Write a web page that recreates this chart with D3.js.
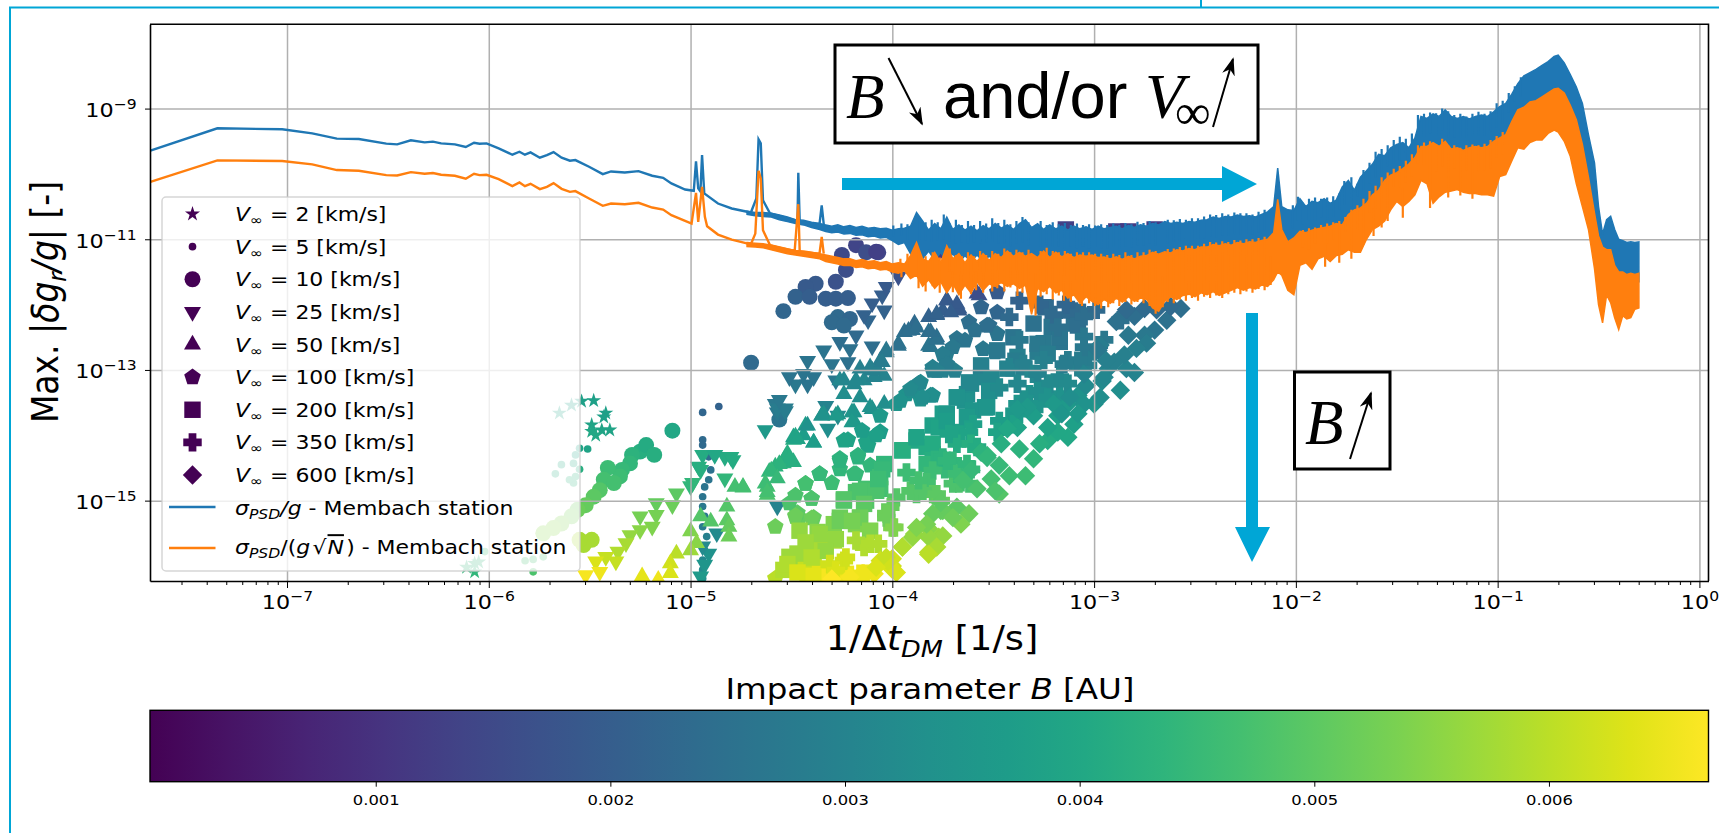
<!DOCTYPE html>
<html>
<head>
<meta charset="utf-8">
<title>Max. gravity signal vs Membach noise</title>
<script src="https://cdn.jsdelivr.net/npm/d3@7"></script>
<style>
  html, body { margin: 0; padding: 0; background: #fff; overflow: hidden; }
  text { font-family: "DejaVu Sans", sans-serif; fill: #000; }
</style>
</head>
<body>
<div id="chart"></div>
<script>
// all frequencies and amplitudes are log10 values

// low frequency part of the two noise curves: [log f, log amp]
const blueThin = [[-7.677,-9.645],[-7.345,-9.302],[-7.024,-9.317],[-6.875,-9.379],[-6.753,-9.46],[-6.644,-9.465],[-6.508,-9.537],[-6.454,-9.547],[-6.386,-9.486],[-6.318,-9.517],[-6.277,-9.506],[-6.236,-9.532],[-6.168,-9.547],[-6.114,-9.588],[-6.073,-9.522],[-6.046,-9.537],[-6.011,-9.532],[-5.951,-9.609],[-5.883,-9.706],[-5.848,-9.66],[-5.821,-9.706],[-5.793,-9.67],[-5.747,-9.752],[-5.712,-9.711],[-5.679,-9.665],[-5.639,-9.752],[-5.598,-9.798],[-5.571,-9.788],[-5.503,-9.89],[-5.435,-10.003],[-5.394,-9.962],[-5.326,-9.977],[-5.258,-9.957],[-5.19,-10.028],[-5.136,-10.059],[-5.095,-10.146],[-5.027,-10.238],[-4.984,-10.258],[-4.973,-9.808],[-4.962,-10.222],[-4.951,-10.27],[-4.943,-9.711],[-4.932,-10.299],[-4.864,-10.453],[-4.796,-10.529],[-4.701,-10.591],[-4.674,-10.376],[-4.663,-9.471],[-4.652,-9.532],[-4.641,-10.402],[-4.606,-10.606],[-4.484,-10.708],[-4.47,-10.73],[-4.466,-9.982],[-4.459,-10.734],[-4.361,-10.77],[-4.35,-10.483],[-4.34,-10.77]];
const orangeThin = [[-7.677,-10.12],[-7.345,-9.793],[-7.024,-9.803],[-6.875,-9.854],[-6.753,-9.941],[-6.644,-9.951],[-6.508,-10.018],[-6.454,-10.023],[-6.386,-9.972],[-6.318,-9.997],[-6.277,-9.987],[-6.236,-10.013],[-6.168,-10.028],[-6.114,-10.074],[-6.073,-9.997],[-6.046,-10.018],[-6.011,-10.013],[-5.951,-10.079],[-5.883,-10.187],[-5.848,-10.13],[-5.821,-10.187],[-5.793,-10.151],[-5.747,-10.233],[-5.712,-10.197],[-5.679,-10.141],[-5.639,-10.228],[-5.598,-10.274],[-5.571,-10.263],[-5.503,-10.376],[-5.435,-10.488],[-5.394,-10.453],[-5.326,-10.463],[-5.258,-10.442],[-5.19,-10.514],[-5.136,-10.545],[-5.095,-10.632],[-5.027,-10.719],[-4.995,-10.76],[-4.973,-10.289],[-4.962,-10.734],[-4.943,-10.197],[-4.929,-10.657],[-4.918,-10.80],[-4.864,-10.928],[-4.796,-11.005],[-4.701,-11.077],[-4.679,-10.913],[-4.663,-9.951],[-4.652,-10.069],[-4.641,-10.862],[-4.606,-11.092],[-4.484,-11.179],[-4.466,-10.463],[-4.459,-11.194],[-4.361,-11.22],[-4.35,-10.964],[-4.34,-11.22]];

// high frequency part: the curves oscillate so fast they read as bands
const bandF = [
  -4.72,-4.68,-4.64,-4.60,-4.56,-4.52,-4.48,-4.44,-4.40,-4.36,
  -4.33,-4.30,-4.27,-4.24,-4.21,-4.18,-4.15,-4.12,-4.09,-4.06,
  -4.03,-4.00,-3.97,-3.94,-3.91,-3.88,-3.85,-3.82,-3.79,-3.76,
  -3.73,-3.70,-3.67,-3.64,-3.61,-3.58,-3.55,-3.52,-3.49,-3.46,
  -3.43,-3.40,-3.37,-3.34,-3.31,-3.28,-3.25,-3.22,-3.19,-3.16,
  -3.13,-3.10,-3.07,-3.04,-3.01,-2.98,-2.95,-2.92,-2.89,-2.86,
  -2.83,-2.80,-2.77,-2.74,-2.71,-2.68,-2.65,-2.62,-2.59,-2.56,
  -2.53,-2.50,-2.47,-2.44,-2.41,-2.38,-2.35,-2.32,-2.29,-2.26,
  -2.23,-2.20,-2.17,-2.14,-2.11,-2.09,-2.07,-2.04,-2.01,-1.98,
  -1.95,-1.92,-1.89,-1.86,-1.83,-1.80,-1.77,-1.74,-1.71,-1.68,
  -1.65,-1.62,-1.59,-1.56,-1.53,-1.50,-1.47,-1.44,-1.41,-1.38,
  -1.35,-1.32,-1.29,-1.26,-1.23,-1.20,-1.17,-1.14,-1.11,-1.08,
  -1.05,-1.02,-0.99,-0.96,-0.93,-0.90,-0.87,-0.84,-0.81,-0.78,
  -0.75,-0.72,-0.70,-0.67,-0.64,-0.61,-0.58,-0.55,-0.52,-0.50,
  -0.48,-0.46,-0.44,-0.42,-0.40,-0.38,-0.36,-0.34,-0.32,-0.30
];
const blueTop = [
  -10.57,-10.59,-10.59,-10.60,-10.63,-10.66,-10.70,-10.71,-10.74,-10.76,
  -10.78,-10.80,-10.78,-10.81,-10.79,-10.82,-10.80,-10.83,-10.82,-10.84,
  -10.83,-10.86,-10.84,-10.83,-10.80,-10.59,-10.72,-10.86,-10.76,-10.84,
  -10.66,-10.85,-10.78,-10.86,-10.80,-10.87,-10.79,-10.84,-10.76,-10.83,
  -10.78,-10.85,-10.76,-10.70,-10.82,-10.76,-10.85,-10.78,-10.84,-10.80,
  -10.86,-10.80,-10.84,-10.81,-10.85,-10.80,-10.84,-10.82,-10.80,-10.84,
  -10.79,-10.82,-10.78,-10.80,-10.76,-10.78,-10.73,-10.76,-10.74,-10.76,
  -10.73,-10.74,-10.71,-10.70,-10.66,-10.68,-10.65,-10.66,-10.63,-10.65,
  -10.64,-10.66,-10.62,-10.58,-10.50,-9.91,-10.50,-10.55,-10.56,-10.38,
  -10.50,-10.42,-10.44,-10.38,-10.45,-10.40,-10.20,-10.10,-10.25,-10.05,
  -9.95,-9.85,-9.70,-9.72,-9.60,-9.55,-9.52,-9.60,-9.45,-9.12,
  -9.15,-9.08,-9.12,-9.02,-9.12,-9.15,-9.12,-9.16,-9.12,-9.10,
  -9.12,-9.05,-8.97,-8.92,-8.78,-8.62,-8.50,-8.45,-8.40,-8.34,
  -8.28,-8.20,-8.18,-8.30,-8.48,-8.67,-8.92,-9.40,-9.83,-10.50,
  -10.92,-10.70,-10.65,-10.85,-11.00,-11.02,-11.05,-11.04,-11.05,-11.04
];
const blueBottom = [
  -10.62,-10.64,-10.65,-10.66,-10.70,-10.73,-10.76,-10.78,-10.82,-10.85,
  -10.88,-10.90,-10.89,-10.92,-10.91,-10.94,-10.93,-10.96,-10.95,-10.98,
  -10.97,-11.02,-11.08,-11.05,-11.22,-11.15,-11.30,-11.18,-11.32,-11.20,
  -11.35,-11.22,-11.36,-11.25,-11.34,-11.24,-11.34,-11.26,-11.32,-11.30,
  -11.34,-11.38,-11.36,-11.40,-11.38,-11.40,-11.36,-11.38,-11.40,-11.42,
  -11.44,-11.42,-11.44,-11.42,-11.44,-11.44,-11.44,-11.46,-11.44,-11.46,
  -11.42,-11.44,-11.42,-11.40,-11.38,-11.40,-11.36,-11.36,-11.34,-11.32,
  -11.32,-11.32,-11.28,-11.28,-11.26,-11.26,-11.24,-11.24,-11.22,-11.22,
  -11.20,-11.20,-11.18,-11.16,-11.10,-11.05,-11.12,-11.15,-11.12,-11.05,
  -11.05,-11.00,-10.98,-10.96,-10.94,-10.92,-10.90,-10.85,-10.75,-10.65,
  -10.60,-10.45,-10.40,-10.25,-10.18,-10.12,-10.08,-10.00,-9.90,-9.72,
  -9.72,-9.68,-9.72,-9.66,-9.76,-9.74,-9.78,-9.74,-9.72,-9.74,
  -9.72,-9.65,-9.60,-9.55,-9.35,-9.16,-9.12,-9.05,-9.02,-8.96,
  -8.90,-8.84,-8.82,-8.90,-9.06,-9.32,-9.82,-10.30,-10.85,-11.20,
  -11.40,-11.45,-11.55,-11.60,-11.65,-11.62,-11.65,-11.65,-11.65,-11.65
];
const orangeTop = [
  -11.05,-11.06,-11.07,-11.09,-11.12,-11.15,-11.17,-11.18,-11.20,-11.22,
  -11.24,-11.26,-11.28,-11.30,-11.30,-11.33,-11.31,-11.34,-11.33,-11.36,
  -11.34,-11.38,-11.36,-11.38,-11.25,-11.05,-11.30,-11.34,-11.20,-11.36,
  -11.10,-11.30,-11.22,-11.36,-11.24,-11.34,-11.22,-11.32,-11.22,-11.28,
  -11.18,-11.26,-11.20,-11.26,-11.22,-11.28,-11.18,-11.28,-11.20,-11.27,
  -11.22,-11.28,-11.24,-11.26,-11.24,-11.28,-11.27,-11.30,-11.27,-11.31,
  -11.26,-11.30,-11.26,-11.25,-11.20,-11.23,-11.19,-11.21,-11.16,-11.18,
  -11.14,-11.16,-11.12,-11.12,-11.08,-11.10,-11.07,-11.09,-11.05,-11.07,
  -11.04,-11.05,-11.02,-11.00,-10.90,-10.39,-10.85,-11.04,-10.98,-10.88,
  -10.90,-10.86,-10.84,-10.82,-10.80,-10.76,-10.78,-10.62,-10.55,-10.52,
  -10.45,-10.32,-10.25,-10.10,-10.02,-9.98,-9.92,-9.85,-9.75,-9.58,
  -9.58,-9.52,-9.58,-9.50,-9.62,-9.60,-9.64,-9.60,-9.58,-9.60,
  -9.58,-9.50,-9.45,-9.40,-9.20,-9.02,-8.98,-8.90,-8.88,-8.82,
  -8.76,-8.70,-8.69,-8.76,-8.95,-9.17,-9.55,-10.05,-10.60,-10.95,
  -11.12,-11.16,-11.16,-11.40,-11.50,-11.50,-11.54,-11.52,-11.54,-11.52
];
const orangeBottom = [
  -11.11,-11.12,-11.13,-11.16,-11.19,-11.22,-11.24,-11.26,-11.28,-11.30,
  -11.34,-11.36,-11.38,-11.40,-11.40,-11.43,-11.42,-11.45,-11.44,-11.47,
  -11.46,-11.50,-11.52,-11.48,-11.60,-11.55,-11.72,-11.62,-11.75,-11.65,
  -11.82,-11.68,-11.85,-11.70,-11.82,-11.65,-11.78,-11.68,-11.72,-11.66,
  -11.72,-11.68,-11.75,-11.70,-12.15,-11.75,-11.80,-11.72,-11.82,-11.78,
  -11.90,-11.85,-11.98,-11.88,-11.95,-12.00,-11.92,-11.98,-11.90,-11.96,
  -11.88,-11.95,-11.90,-11.92,-12.05,-12.10,-11.95,-11.88,-11.92,-11.86,
  -11.84,-11.88,-11.82,-11.85,-11.80,-11.86,-11.82,-11.78,-11.74,-11.78,
  -11.74,-11.76,-11.70,-11.72,-11.62,-11.50,-11.55,-11.78,-11.85,-11.40,
  -11.36,-11.46,-11.30,-11.26,-11.34,-11.25,-11.23,-11.16,-11.20,-11.20,
  -11.00,-10.85,-10.80,-10.72,-10.55,-10.42,-10.50,-10.42,-10.32,-10.10,
  -10.15,-10.45,-10.35,-10.28,-10.26,-10.24,-10.28,-10.30,-10.30,-10.32,
  -10.32,-10.34,-10.04,-10.01,-9.80,-9.60,-9.62,-9.52,-9.48,-9.48,
  -9.38,-9.33,-9.36,-9.50,-9.73,-10.15,-10.50,-10.85,-11.45,-12.00,
  -12.28,-11.85,-11.97,-12.20,-12.38,-12.17,-12.22,-12.20,-12.07,-12.05
];

// fine teeth sticking out of the band edges: [log f, log amp of the tip]
const blueTeeth = [[-3.995,-10.79],[-3.955,-10.76],[-3.925,-10.77],[-3.865,-10.68],[-3.835,-10.74],[-3.805,-10.70],[-3.775,-10.74],[-3.745,-10.62],[-3.715,-10.76],[-3.685,-10.70],[-3.655,-10.78],[-3.625,-10.72],[-3.595,-10.78],[-3.565,-10.72],[-3.535,-10.76],[-3.505,-10.68],[-3.475,-10.75],[-3.445,-10.70],[-3.415,-10.77],[-3.385,-10.72],[-3.355,-10.66],[-3.325,-10.74],[-3.265,-10.72],[-3.235,-10.78],[-3.205,-10.74],[-3.175,-10.77],[-3.145,-10.75],[-3.115,-10.78],[-3.085,-10.76],[-3.055,-10.78],[-3.025,-10.77],[-2.995,-10.79],[-2.965,-10.77],[-2.935,-10.78],[-2.905,-10.76],[-2.875,-10.78],[-2.845,-10.75],[-2.815,-10.77],[-2.785,-10.73],[-2.755,-10.75],[-2.725,-10.72],[-2.695,-10.74],[-2.635,-10.70],[-2.605,-10.71],[-2.575,-10.69],[-2.545,-10.70],[-2.515,-10.68],[-2.485,-10.68],[-2.455,-10.65],[-2.425,-10.62],[-2.395,-10.63],[-2.365,-10.60],[-2.335,-10.62],[-2.305,-10.59],[-2.275,-10.60],[-2.245,-10.60],[-2.215,-10.62],[-2.185,-10.58],[-2.155,-10.55],[-2.015,-10.48],[-1.99,-10.35],[-1.965,-10.44],[-1.935,-10.38],[-1.905,-10.36],[-1.875,-10.38],[-1.845,-10.36],[-1.815,-10.34],[-1.785,-10.30],[-1.76,-10.11],[-1.725,-10.05],[-1.695,-10.15],[-1.665,-9.94],[-1.635,-9.83],[-1.605,-9.66],[-1.575,-9.62],[-1.545,-9.56],[-1.515,-9.48],[-1.485,-9.43],[-1.455,-9.46],[-1.425,-9.38],[-1.395,-9.10],[-1.365,-9.08],[-1.335,-9.06],[-1.305,-9.07],[-1.275,-9.00],[-1.245,-9.04],[-1.215,-9.10],[-1.185,-9.08],[-1.155,-9.12],[-1.125,-9.08],[-1.095,-9.05],[-1.065,-9.08],[-1.035,-9.04],[-1.005,-8.92],[-.975,-8.88],[-.945,-8.76],[-.915,-8.66],[-.885,-8.52]];
const orangeUpTeeth = [[-3.96,-11.30],[-3.925,-11.22],[-3.87,-11.17],[-3.835,-11.26],[-3.80,-11.20],[-3.765,-11.28],[-3.715,-11.14],[-3.685,-11.24],[-3.655,-11.26],[-3.625,-11.20],[-3.595,-11.26],[-3.565,-11.18],[-3.535,-11.24],[-3.505,-11.18],[-3.475,-11.22],[-3.445,-11.14],[-3.415,-11.20],[-3.385,-11.16],[-3.355,-11.20],[-3.325,-11.16],[-3.265,-11.18],[-3.235,-11.13],[-3.205,-11.18],[-3.175,-11.20],[-3.145,-11.18],[-3.115,-11.22],[-3.085,-11.20],[-3.055,-11.20],[-3.025,-11.20],[-2.995,-11.22],[-2.965,-11.22],[-2.935,-11.24],[-2.905,-11.22],[-2.875,-11.24],[-2.845,-11.20],[-2.815,-11.24],[-2.785,-11.20],[-2.755,-11.20],[-2.725,-11.16],[-2.695,-11.18],[-2.635,-11.15],[-2.605,-11.14],[-2.575,-11.12],[-2.545,-11.10],[-2.515,-11.10],[-2.485,-11.10],[-2.455,-11.07],[-2.425,-11.04],[-2.395,-11.05],[-2.365,-11.03],[-2.335,-11.04],[-2.305,-11.01],[-2.275,-11.02],[-2.245,-11.0],[-2.215,-11.0],[-2.185,-10.98],[-2.155,-10.96],[-1.965,-10.86],[-1.935,-10.83],[-1.905,-10.82],[-1.875,-10.78],[-1.845,-10.76],[-1.815,-10.74],[-1.785,-10.72],[-1.755,-10.66],[-1.725,-10.55],[-1.695,-10.48],[-1.665,-10.38],[-1.635,-10.26],[-1.605,-10.18],[-1.575,-10.05],[-1.545,-9.98],[-1.515,-9.92],[-1.485,-9.88],[-1.455,-9.80],[-1.425,-9.70],[-1.395,-9.56],[-1.365,-9.52],[-1.335,-9.50],[-1.305,-9.55],[-1.275,-9.46],[-1.245,-9.56],[-1.215,-9.56],[-1.185,-9.60],[-1.155,-9.56],[-1.125,-9.55],[-1.095,-9.56],[-1.065,-9.54],[-1.035,-9.48],[-1.005,-9.42],[-.975,-9.36]];
const orangeDownTeeth = [[-3.955,-11.58],[-3.87,-11.75],[-3.835,-11.80],[-3.80,-11.72],[-3.765,-11.82],[-3.70,-11.81],[-3.66,-11.91],[-3.61,-11.84],[-3.585,-11.78],[-3.55,-11.82],[-3.505,-11.80],[-3.48,-11.75],[-3.445,-11.80],[-3.415,-11.74],[-3.38,-11.87],[-3.355,-11.82],[-3.325,-11.82],[-3.29,-12.17],[-3.265,-11.88],[-3.235,-11.84],[-3.205,-11.92],[-3.175,-11.86],[-3.15,-11.94],[-3.115,-11.96],[-3.06,-12.02],[-3.025,-11.98],[-2.995,-12.02],[-2.965,-12.06],[-2.93,-12.04],[-2.905,-11.98],[-2.875,-12.02],[-2.845,-11.96],[-2.815,-12.0],[-2.785,-11.96],[-2.755,-11.98],[-2.725,-12.02],[-2.695,-12.14],[-2.66,-12.04],[-2.635,-11.96],[-2.605,-11.98],[-2.575,-11.92],[-2.545,-11.94],[-2.515,-11.90],[-2.485,-11.94],[-2.455,-11.88],[-2.425,-11.90],[-2.395,-11.86],[-2.365,-11.90],[-2.335,-11.84],[-2.305,-11.82],[-2.275,-11.84],[-2.245,-11.80],[-2.215,-11.82],[-2.185,-11.76],[-2.155,-11.78],[-2.125,-11.70],[-1.855,-11.42],[-1.785,-11.36],[-1.725,-11.30],[-1.665,-11.08],[-1.615,-10.95],[-1.575,-10.82],[-1.545,-10.72],[-1.47,-10.67],[-1.335,-10.52],[-1.245,-10.36],[-1.185,-10.33],[-1.125,-10.38]];

// scatter points per velocity: [log f, log amp, B in AU]
const v2 = [[-5.48,-13.47,.0038],[-5.54,-13.48,.0038],[-5.59,-13.54,.0038],[-5.65,-13.66,.0039],[-5.42,-13.66,.0038],[-5.43,-13.72,.0038],[-5.49,-13.84,.0039],[-5.40,-13.92,.0039],[-5.44,-13.92,.0039],[-5.49,-13.94,.0040],[-5.47,-14.0,.0040],[-6.07,-16.09,.0044],[-6.07,-15.96,.0044],[-6.11,-16.02,.0044],[-6.05,-15.94,.0044]];
const v5 = [[-4.94,-13.65,.0022],[-4.86,-13.56,.0021],[-4.94,-14.07,.0023],[-4.94,-14.15,.0023],[-4.91,-14.33,.0024],[-4.90,-14.53,.0025],[-4.91,-14.68,.0026],[-4.93,-14.79,.0026],[-4.94,-14.94,.0026],[-4.94,-15.09,.0027],[-4.93,-15.24,.0027],[-4.94,-15.40,.0028],[-4.92,-15.55,.0029],[-4.93,-15.76,.0030],[-4.94,-15.91,.0031],[-4.94,-16.06,.0032],[-4.94,-16.19,.0033],[-5.51,-14.21,.0039],[-5.55,-14.20,.0039],[-5.57,-14.30,.0040],[-5.64,-14.45,.0041],[-5.58,-14.43,.0041],[-5.67,-14.59,.0042],[-5.58,-14.73,.0043],[-5.60,-14.68,.0043],[-5.57,-14.63,.0043],[-5.55,-14.52,.0042],[-5.78,-16.09,.0048],[-5.82,-15.92,.0047],[-5.78,-15.90,.0047],[-5.73,-15.86,.0047],[-6.02,-15.78,.0046]];
const v10 = [[-4.18,-11.09,.0014],[-4.25,-11.24,.0015],[-4.23,-11.47,.0016],[-4.07,-11.20,.0014],[-4.13,-11.20,.0016],[-4.28,-11.65,.0017],[-4.38,-11.68,.0019],[-4.43,-11.73,.0019],[-4.48,-11.88,.0021],[-4.41,-11.88,.0020],[-4.33,-11.91,.0020],[-4.28,-11.91,.0020],[-4.22,-11.90,.0020],[-4.54,-12.10,.0022],[-4.27,-12.19,.0023],[-4.30,-12.27,.0023],[-4.21,-12.22,.0022],[-4.24,-12.32,.0023],[-4.70,-12.89,.0023],[-4.08,-11.19,.0013],[-4.56,-13.76,.0026],[-5.09,-13.93,.0040],[-5.25,-14.25,.0042],[-5.22,-14.15,.0041],[-5.18,-14.30,.0042],[-5.29,-14.30,.0043],[-5.30,-14.43,.0044],[-5.34,-14.53,.0045],[-5.35,-14.63,.0046],[-5.41,-14.50,.0046],[-5.43,-14.68,.0047],[-5.38,-14.73,.0047],[-5.45,-14.84,.0049],[-5.48,-14.94,.0050],[-5.52,-15.07,.0051],[-5.56,-15.14,.0052],[-5.59,-15.24,.0053],[-5.64,-15.35,.0054],[-5.68,-15.42,.0055],[-5.73,-15.50,.0055],[-5.49,-15.60,.0058],[-5.53,-15.68,.0058],[-5.55,-15.60,.0058]];
const v25 = [[-4.58,-13.52,.0027],[-4.57,-13.65,.0027],[-4.53,-13.63,.0028],[-4.42,-12.86,.0026],[-4.48,-13.22,.0027],[-4.42,-13.22,.0026],[-4.39,-13.11,.0026],[-4.51,-13.11,.0026],[-4.44,-13.06,.0026],[-4.30,-12.91,.0026],[-4.22,-12.88,.0025],[-4.21,-12.68,.0025],[-4.26,-12.57,.0024],[-4.34,-12.70,.0026],[-4.10,-12.64,.0024],[-4.18,-12.47,.0023],[-4.12,-12.24,.0022],[-4.14,-12.16,.0021],[-4.10,-11.98,.0020],[-4.05,-11.86,.0020],[-4.03,-11.73,.0019],[-4.04,-12.09,.0021],[-3.97,-11.57,.0017],[-4.28,-13.16,.0027],[-5.07,-14.89,.0050],[-5.09,-15.07,.0052],[-5.17,-15.04,.0051],[-5.25,-15.24,.0053],[-5.17,-15.22,.0053],[-5.19,-15.40,.0054],[-5.25,-15.45,.0055],[-5.30,-15.53,.0056],[-5.32,-15.65,.0058],[-5.36,-15.78,.0059],[-5.42,-15.86,.0061],[-5.37,-15.93,.0061],[-5.47,-15.93,.0063],[-5.45,-16.09,.0065],[-5.52,-16.14,.0066],[-4.94,-14.30,.0041],[-4.96,-14.48,.0042],[-4.95,-14.53,.0042],[-4.99,-14.73,.0044],[-5.0,-14.78,.0044],[-4.83,-14.33,.0041],[-4.80,-14.33,.0041],[-4.88,-14.30,.0040],[-4.79,-14.38,.0041],[-4.83,-14.66,.0044],[-4.87,-15.50,.0032],[-4.57,-15.09,.0030],[-4.63,-13.92,.0036],[-4.57,-13.59,.0028],[-4.53,-13.59,.0028],[-4.56,-13.46,.0027],[-4.91,-15.81,.0034],[-4.93,-15.98,.0035],[-4.95,-16.16,.0036],[-4.94,-15.70,.0032],[-4.32,-13.90,.0033],[-4.33,-13.55,.0030],[-4.27,-13.70,.0032]];
const v50 = [[-4.74,-14.79,.0047],[-4.78,-14.79,.0047],[-4.82,-15.09,.0049],[-4.95,-15.24,.0049],[-4.90,-15.32,.0049],[-4.82,-15.30,.0050],[-4.81,-15.40,.0051],[-4.81,-15.55,.0052],[-5.0,-15.47,.0054],[-4.97,-15.65,.0055],[-5.0,-15.76,.0057],[-5.07,-15.81,.0060],[-5.10,-15.96,.0062],[-5.10,-16.11,.0063],[-5.24,-16.16,.0064],[-5.16,-16.21,.0065],[-4.62,-14.79,.0047],[-4.62,-14.91,.0048],[-4.49,-14.07,.0041],[-4.52,-14.28,.0042],[-4.58,-14.48,.0043],[-4.61,-14.56,.0044],[-4.54,-14.43,.0043],[-4.48,-14.02,.0040],[-3.81,-12.65,.0026],[-3.78,-12.50,.0024],[-3.82,-12.42,.0024],[-3.90,-12.39,.0024],[-3.94,-12.42,.0024],[-3.97,-12.60,.0026],[-4.03,-12.73,.0027],[-4.06,-12.86,.0028],[-4.11,-12.96,.0029],[-4.07,-13.01,.0029],[-4.04,-13.09,.0030],[-4.14,-13.16,.0031],[-4.19,-13.22,.0031],[-4.24,-13.16,.0031],[-4.16,-13.42,.0033],[-4.24,-13.37,.0033],[-4.10,-13.60,.0034],[-4.19,-13.65,.0035],[-4.34,-13.68,.0034],[-4.27,-13.68,.0035],[-3.73,-11.93,.0019],[-3.67,-12.06,.0020],[-3.78,-12.16,.0021],[-3.82,-12.19,.0021],[-3.57,-11.86,.0017],[-4.35,-13.70,.0036],[-4.28,-13.70,.0036],[-4.19,-13.78,.0036],[-4.43,-13.85,.0037],[-4.39,-14.11,.0038],[-4.44,-14.0,.0037],[-4.11,-13.57,.0034],[-4.04,-13.52,.0033],[-4.26,-13.16,.0031],[-4.18,-13.16,.0031],[-4.09,-13.11,.0030],[-3.58,-11.83,.0016],[-3.67,-12.09,.0019],[-3.75,-12.09,.0020],[-3.89,-12.29,.0023],[-3.48,-11.27,.0012],[-3.75,-11.22,.0012],[-3.97,-12.63,.0025],[-3.92,-12.40,.0024],[-3.88,-12.35,.0024],[-3.82,-12.63,.0026],[-3.78,-12.54,.0025],[-3.81,-12.42,.0024],[-3.73,-11.94,.0019],[-3.68,-11.99,.0019],[-3.78,-12.14,.0021],[-3.71,-12.12,.0020],[-4.16,-12.98,.0029],[-4.10,-13.01,.0029],[-4.03,-12.70,.0027],[-4.05,-12.88,.0028],[-4.42,-13.85,.0034],[-4.39,-14.11,.0037],[-4.35,-13.70,.0034],[-4.20,-13.65,.0035],[-4.20,-13.80,.0036],[-4.49,-14.03,.0039],[-4.47,-14.06,.0039],[-4.53,-14.34,.0042],[-4.49,-14.41,.0042],[-4.51,-14.36,.0042],[-4.56,-14.44,.0043],[-4.60,-14.54,.0044],[-4.57,-14.66,.0045],[-4.63,-14.74,.0046],[-4.62,-14.87,.0047],[-4.74,-14.80,.0047]];
const v100 = [[-3.56,-12.04,.0022],[-3.62,-12.27,.0024],[-3.52,-12.32,.0024],[-3.59,-12.39,.0025],[-3.48,-12.45,.0026],[-3.55,-12.68,.0027],[-3.68,-12.52,.0026],[-3.64,-12.55,.0026],[-3.73,-12.75,.0028],[-3.69,-13.01,.0029],[-3.80,-12.96,.0029],[-3.75,-13.01,.0029],[-3.87,-13.22,.0032],[-3.80,-13.39,.0033],[-3.93,-13.37,.0034],[-3.49,-12.73,.0028],[-3.98,-13.52,.0035],[-3.86,-13.45,.0034],[-3.86,-13.19,.0032],[-3.96,-13.47,.0034],[-3.90,-13.32,.0033],[-3.73,-12.93,.0029],[-3.80,-13.01,.0029],[-4.26,-14.36,.0043],[-4.17,-14.34,.0043],[-4.26,-14.52,.0044],[-4.11,-14.46,.0044],[-4.18,-14.59,.0045],[-4.36,-14.59,.0045],[-4.30,-14.73,.0046],[-4.40,-14.97,.0048],[-4.43,-14.74,.0047],[-4.39,-15.26,.0051],[-4.46,-15.26,.0051],[-4.06,-13.70,.0036],[-4.12,-14.06,.0038],[-4.22,-14.07,.0039],[-4.06,-13.95,.0037],[-4.12,-14.16,.0039],[-4.58,-15.40,.0052],[-4.47,-15.19,.0050],[-4.51,-15.04,.0048],[-4.58,-16.19,.0060],[-4.48,-15.25,.0051],[-3.48,-11.81,.0019],[-3.48,-12.12,.0022],[-3.53,-12.32,.0024],[-3.70,-12.65,.0027],[-3.75,-12.76,.0028],[-3.73,-12.91,.0028],[-3.78,-13.01,.0029],[-3.87,-13.21,.0031],[-3.91,-13.29,.0032],[-3.81,-13.39,.0033],[-3.85,-13.42,.0033],[-4.36,-14.59,.0045],[-4.43,-14.74,.0047],[-4.26,-14.39,.0043],[-4.17,-14.31,.0043],[-4.19,-14.59,.0045],[-4.24,-14.08,.0039],[-4.13,-14.11,.0039],[-4.08,-14.0,.0038],[-4.15,-13.93,.0037],[-4.48,-15.23,.0052],[-4.40,-15.27,.0052],[-4.40,-14.97,.0048],[-4.48,-14.92,.0048]];
const v200 = [[-3.61,-13.21,.0032],[-3.56,-13.11,.0031],[-3.51,-13.21,.0032],[-3.43,-12.98,.0030],[-3.63,-13.37,.0033],[-3.68,-13.42,.0034],[-3.54,-13.57,.0036],[-3.75,-13.67,.0037],[-3.80,-13.85,.0038],[-3.73,-13.78,.0037],[-3.68,-13.95,.0039],[-3.88,-14.08,.0040],[-3.95,-14.23,.0042],[-3.83,-14.18,.0041],[-3.80,-14.29,.0042],[-4.04,-14.44,.0044],[-4.06,-14.64,.0046],[-4.13,-14.82,.0047],[-4.06,-14.82,.0047],[-4.24,-15.0,.0049],[-4.18,-14.87,.0048],[-4.26,-15.26,.0052],[-4.16,-15.26,.0053],[-4.37,-15.48,.0055],[-4.29,-15.36,.0054],[-4.42,-15.69,.0058],[-4.35,-15.74,.0058],[-4.39,-15.89,.0061],[-4.29,-15.61,.0058],[-4.46,-15.46,.0056],[-4.42,-16.12,.0063],[-4.36,-16.12,.0064],[-4.31,-16.17,.0065],[-4.44,-15.92,.0061],[-4.18,-15.36,.0054],[-4.13,-15.0,.0049],[-4.24,-16.15,.0066],[-4.18,-16.18,.0067],[-4.51,-15.86,.0057],[-4.54,-16.06,.0059],[-4.47,-15.81,.0057],[-3.30,-12.29,.0025],[-3.21,-12.34,.0026],[-3.10,-12.29,.0025],[-3.25,-12.59,.0027],[-3.38,-12.80,.0029],[-3.17,-12.57,.0026],[-3.28,-12.72,.0028],[-3.08,-12.11,.0023],[-2.89,-10.88,.0012],[-2.83,-10.88,.0012],[-2.70,-10.85,.0012],[-3.14,-10.85,.0013],[-3.48,-12.70,.0027],[-3.56,-12.93,.0029],[-3.40,-12.50,.0026],[-3.28,-12.60,.0027],[-3.39,-12.86,.0028],[-3.23,-12.75,.0028],[-3.17,-12.50,.0026],[-3.35,-12.96,.0029],[-3.62,-13.19,.0031],[-3.51,-13.14,.0031],[-3.52,-13.32,.0033],[-3.64,-13.47,.0034],[-3.54,-13.57,.0035],[-3.73,-13.67,.0036],[-3.68,-13.42,.0034],[-3.24,-12.04,.0023],[-3.12,-12.09,.0023],[-3.08,-12.32,.0024],[-3.40,-13.70,.0036],[-4.24,-14.98,.0049],[-4.16,-14.85,.0048],[-4.08,-14.85,.0048],[-4.05,-14.52,.0045],[-4.07,-14.67,.0046],[-4.14,-15.05,.0050],[-4.26,-15.31,.0052],[-4.16,-15.26,.0052],[-4.11,-15.46,.0054],[-4.36,-15.51,.0056],[-4.28,-15.59,.0056],[-4.43,-15.64,.0057],[-4.33,-15.77,.0056],[-4.40,-15.87,.0059],[-4.52,-15.97,.0059],[-4.47,-16.10,.0063],[-4.39,-16.15,.0064],[-4.31,-16.17,.0066],[-4.23,-16.12,.0065],[-4.20,-15.31,.0053],[-3.95,-14.23,.0042],[-3.88,-14.03,.0039],[-3.83,-14.44,.0044],[-3.80,-14.13,.0041],[-3.77,-13.88,.0039],[-3.73,-13.78,.0037],[-3.68,-13.98,.0039],[-3.60,-13.62,.0035],[-3.53,-13.57,.0035],[-3.77,-14.36,.0043],[-3.63,-13.72,.0036]];
const v350 = [[-3.42,-12.96,.0030],[-3.35,-12.91,.0029],[-3.30,-13.06,.0031],[-3.23,-13.21,.0032],[-3.17,-13.11,.0031],[-3.08,-12.96,.0029],[-3.03,-12.93,.0029],[-3.38,-13.52,.0035],[-3.32,-13.37,.0034],[-3.27,-13.52,.0035],[-3.37,-13.67,.0036],[-3.17,-13.37,.0034],[-3.47,-13.78,.0037],[-3.40,-13.83,.0038],[-3.60,-13.83,.0038],[-3.62,-13.95,.0039],[-3.48,-13.95,.0039],[-3.68,-14.13,.0041],[-3.61,-14.13,.0042],[-3.74,-14.52,.0045],[-3.66,-14.54,.0045],[-3.61,-14.52,.0045],[-3.75,-14.34,.0043],[-3.70,-14.39,.0044],[-3.80,-14.54,.0046],[-3.83,-14.72,.0047],[-3.70,-14.74,.0048],[-3.66,-14.72,.0047],[-3.88,-14.90,.0049],[-3.85,-14.85,.0049],[-3.80,-14.90,.0050],[-3.76,-15.0,.0051],[-3.98,-14.95,.0049],[-4.01,-15.10,.0051],[-4.03,-15.20,.0052],[-4.0,-15.41,.0054],[-4.14,-15.71,.0059],[-4.18,-15.61,.0058],[-4.11,-15.66,.0059],[-4.07,-15.66,.0059],[-4.24,-15.92,.0062],[-4.23,-15.87,.0062],[-4.31,-15.97,.0062],[-4.28,-16.07,.0063],[-4.16,-16.12,.0065],[-4.13,-16.12,.0065],[-3.05,-12.49,.0027],[-2.95,-12.54,.0027],[-2.87,-12.24,.0025],[-2.99,-12.08,.0023],[-3.14,-12.0,.0022],[-3.27,-12.0,.0022],[-3.37,-12.54,.0027],[-3.20,-12.16,.0023],[-3.05,-12.18,.0024],[-3.13,-12.85,.0028],[-3.03,-12.80,.0028],[-3.25,-12.85,.0029],[-3.37,-11.94,.0021],[-3.42,-12.19,.0023],[-3.18,-12.35,.0025],[-3.05,-12.65,.0027],[-3.08,-12.86,.0028],[-3.15,-12.91,.0028],[-3.28,-13.06,.0030],[-3.38,-13.21,.0031],[-3.22,-13.21,.0032],[-3.28,-13.32,.0033],[-3.47,-13.27,.0032],[-3.35,-13.49,.0034],[-3.23,-13.42,.0034],[-3.13,-13.21,.0032],[-3.91,-14.85,.0049],[-3.85,-14.85,.0049],[-3.78,-14.90,.0050],[-3.67,-14.74,.0048],[-3.68,-14.59,.0046],[-3.73,-14.39,.0044],[-3.62,-14.74,.0047],[-3.93,-14.57,.0046],[-3.87,-14.69,.0047],[-3.72,-13.98,.0039],[-3.63,-14.44,.0044],[-3.58,-14.18,.0041],[-4.03,-15.26,.0052],[-3.99,-15.41,.0054]];
const v600 = [[-2.87,-13.31,.0033],[-2.80,-13.04,.0030],[-2.84,-12.98,.0030],[-2.96,-13.17,.0032],[-2.93,-12.98,.0030],[-3.00,-13.52,.0035],[-3.08,-13.39,.0034],[-3.04,-13.24,.0032],[-3.13,-13.52,.0036],[-3.13,-14.03,.0040],[-3.10,-13.83,.0038],[-3.18,-13.70,.0038],[-3.23,-14.08,.0041],[-3.18,-13.95,.0040],[-3.30,-14.36,.0044],[-3.27,-14.13,.0042],[-3.37,-14.21,.0043],[-3.34,-14.62,.0046],[-3.42,-14.62,.0046],[-3.47,-14.46,.0045],[-3.53,-14.31,.0044],[-3.46,-14.13,.0042],[-3.47,-14.90,.0049],[-3.51,-14.67,.0047],[-3.58,-14.82,.0048],[-3.61,-14.54,.0045],[-3.65,-14.69,.0047],[-3.62,-15.20,.0052],[-3.66,-15.36,.0054],[-3.68,-15.10,.0050],[-3.76,-15.15,.0051],[-3.82,-15.43,.0055],[-3.77,-15.56,.0056],[-3.82,-15.79,.0060],[-3.75,-15.54,.0056],[-3.89,-15.51,.0056],[-3.95,-15.71,.0059],[-4.0,-15.89,.0062],[-4.03,-15.92,.0062],[-4.0,-16.05,.0063],[-4.06,-15.92,.0062],[-3.38,-13.88,.0039],[-3.30,-13.70,.0037],[-3.20,-13.52,.0036],[-3.43,-13.90,.0040],[-3.33,-13.57,.0036],[-3.38,-13.60,.0036],[-3.23,-13.88,.0039],[-3.56,-14.26,.0043],[-4.09,-16.12,.0065],[-4.14,-16.12,.0065],[-4.21,-16.17,.0066],[-2.57,-12.06,.0024],[-2.64,-12.24,.0025],[-2.70,-12.39,.0026],[-2.75,-12.47,.0027],[-2.74,-12.59,.0028],[-2.79,-12.67,.0029],[-2.85,-12.77,.0029],[-2.90,-12.88,.0029],[-2.83,-12.47,.0027],[-2.89,-12.26,.0025],[-2.80,-12.18,.0024],[-2.75,-12.06,.0023],[-2.84,-12.08,.0023],[-2.69,-12.08,.0023],[-2.62,-12.03,.0023],[-2.97,-12.62,.0028],[-2.98,-12.70,.0027],[-3.05,-13.06,.0030],[-2.94,-12.86,.0029],[-3.12,-13.42,.0033],[-3.16,-13.67,.0035],[-3.05,-13.52,.0034],[-2.97,-13.42,.0033],[-3.08,-13.67,.0036],[-2.95,-13.11,.0031],[-3.75,-15.15,.0051],[-3.80,-15.20,.0051],[-3.70,-15.26,.0052],[-3.82,-15.56,.0056],[-3.78,-15.71,.0058],[-3.82,-15.82,.0060],[-3.90,-15.56,.0056],[-3.95,-15.71,.0059],[-4.03,-15.87,.0061],[-4.0,-16.0,.0062],[-3.98,-16.10,.0063],[-4.08,-16.02,.0063],[-4.15,-16.12,.0065],[-4.21,-16.17,.0066],[-4.30,-16.20,.0067],[-3.76,-15.03,.0050],[-3.83,-15.36,.0053],[-3.88,-15.41,.0054],[-3.53,-14.34,.0044],[-3.49,-14.85,.0048]];

const velocities = [2, 5, 10, 25, 50, 100, 200, 350, 600];
const xMajor = [-7, -6, -5, -4, -3, -2, -1, 0];
const xMinorDigits = [2, 3, 4, 5, 6, 7, 8, 9];
const yMajor = [-9, -11, -13, -15];
const barTicks = [0.001, 0.002, 0.003, 0.004, 0.005, 0.006];

const cyan = '#00a6d6';
const stretch = 'scale(1.115,1)'; // the source picture was widened a little

const svg = d3.select('#chart')
  .append('svg')
  .attr('width', 1719)
  .attr('height', 833);

// extra marker shapes for d3.symbol
const symbolPentagon = {
  draw(ctx, size) {
    const r = Math.sqrt(size / 2.378);
    d3.range(5).forEach(i => {
      const a = -Math.PI / 2 + i * 2 * Math.PI / 5;
      if (i === 0) ctx.moveTo(r * Math.cos(a), r * Math.sin(a));
      else ctx.lineTo(r * Math.cos(a), r * Math.sin(a));
    });
    ctx.closePath();
  }
};
const symbolFatPlus = {
  draw(ctx, size) {
    const r = Math.sqrt(size) / 2;
    const t = r * 0.42;
    [[-t,-r],[t,-r],[t,-t],[r,-t],[r,t],[t,t],[t,r],[-t,r],[-t,t],[-r,t],[-r,-t],[-t,-t]]
      .forEach((p, i) => i === 0 ? ctx.moveTo(p[0], p[1]) : ctx.lineTo(p[0], p[1]));
    ctx.closePath();
  }
};

const markers = [
  { data: v2, type: d3.symbolStar, size: 70 },
  { data: v5, type: d3.symbolCircle, size: 46 },
  { data: v10, type: d3.symbolCircle, size: 200 },
  { data: v25, type: d3.symbolTriangle, size: 125, flip: true },
  { data: v50, type: d3.symbolTriangle, size: 125 },
  { data: v100, type: symbolPentagon, size: 180 },
  { data: v200, type: d3.symbolSquare, size: 270 },
  { data: v350, type: symbolFatPlus, size: 340 },
  { data: v600, type: d3.symbolDiamond2, size: 240 }
];

// scales
const x = d3.scaleLog().domain([Math.pow(10, -7.679), Math.pow(10, 0.045)]).range([150, 1708.5]);
const y = d3.scaleLog().domain([Math.pow(10, -16.23), Math.pow(10, -7.71)]).range([581, 24.3]);
const color = d3.scaleSequential(d3.interpolateViridis).domain([0.000038, 0.00668]);
const barScale = d3.scaleLinear().domain([0.000038, 0.00668]).range([150, 1708.5]);

const defs = svg.append('defs');
defs.append('clipPath').attr('id', 'plot-clip')
  .append('rect').attr('x', 150).attr('y', 24.3).attr('width', 1558.5).attr('height', 556.7);

// slide frame
svg.append('path')
  .attr('d', 'M10,833V7.5H1719M1201,0V7.5')
  .attr('fill', 'none').attr('stroke', cyan).attr('stroke-width', 2);

const plot = svg.append('g').attr('clip-path', 'url(#plot-clip)');

// scatter first, grid and curves go over it
markers.forEach(m => {
  plot.append('g').selectAll('path')
    .data(m.data)
    .enter()
    .append('path')
    .attr('d', d3.symbol().type(m.type).size(m.size))
    .attr('transform', d => `translate(${x(Math.pow(10, d[0]))},${y(Math.pow(10, d[1]))})${m.flip ? ' rotate(180)' : ''}`)
    .attr('fill', d => color(d[2]));
});

const xMajorValues = xMajor.map(e => Math.pow(10, e));
const xMinorValues = d3.merge(d3.range(-8, 0).map(e => xMinorDigits.map(k => k * Math.pow(10, e))))
  .filter(v => v > x.domain()[0] && v < x.domain()[1]);
const yMajorValues = yMajor.map(e => Math.pow(10, e));

// grid
plot.append('g')
  .attr('transform', 'translate(0,581)')
  .call(d3.axisBottom(x).tickValues(xMajorValues).tickSize(-556.7).tickFormat(''))
  .call(g => g.select('.domain').remove())
  .selectAll('line').attr('stroke', '#b0b0b0').attr('stroke-width', 1.5);
plot.append('g')
  .attr('transform', 'translate(150,0)')
  .call(d3.axisLeft(y).tickValues(yMajorValues).tickSize(-1558.5).tickFormat(''))
  .call(g => g.select('.domain').remove())
  .selectAll('line').attr('stroke', '#b0b0b0').attr('stroke-width', 1.5);

// noise curves
const curve = d3.line().x(d => x(Math.pow(10, d[0]))).y(d => y(Math.pow(10, d[1])));
const band = d3.area()
  .x(d => x(Math.pow(10, d.f)))
  .y0(d => y(Math.pow(10, d.low)))
  .y1(d => y(Math.pow(10, d.high)));
const bandRows = (high, low) => bandF.map((f, i) => ({ f: f, high: high[i], low: low[i] }));

// a tooth is a short vertical stroke from its tip back into the band
const teethPath = (teeth, high, low) => teeth.map(t => {
  const i = Math.min(d3.bisectLeft(bandF, t[0]), bandF.length - 1);
  return curve([t, [t[0], (high[i] + low[i]) / 2]]);
}).join('');

const drawCurve = (thin, high, low, teeth, stroke) => {
  plot.append('path').attr('d', curve(thin))
    .attr('fill', 'none').attr('stroke', stroke).attr('stroke-width', 2.4);
  plot.append('path').attr('d', band(bandRows(high, low)))
    .attr('fill', stroke).attr('stroke', stroke).attr('stroke-width', 1.5);
  plot.append('path').attr('d', teeth.map(t => teethPath(t, high, low)).join(''))
    .attr('fill', 'none').attr('stroke', stroke).attr('stroke-width', 2.2);
};
drawCurve(blueThin, blueTop, blueBottom, [blueTeeth], '#1f77b4');
drawCurve(orangeThin, orangeTop, orangeBottom, [orangeUpTeeth, orangeDownTeeth], '#ff7f0e');

// axes
const powerLabel = (sel, exponents) => sel.each(function(d, i) {
  const t = d3.select(this).text(null).attr('transform', stretch);
  t.append('tspan').text('10').style('font-size', '20px');
  t.append('tspan').text(String(exponents[i]).replace('-', '\u2212'))
    .attr('dy', -8).style('font-size', '14px');
});

const xAxis = svg.append('g').attr('transform', 'translate(0,581)')
  .call(d3.axisBottom(x).tickValues(xMajorValues).tickSize(7).tickSizeOuter(0).tickPadding(0));
xAxis.selectAll('text').attr('y', 28).attr('dy', 0).call(powerLabel, xMajor);
svg.append('g').attr('transform', 'translate(0,581)')
  .call(d3.axisBottom(x).tickValues(xMinorValues).tickSize(4).tickSizeOuter(0).tickFormat(''))
  .call(g => g.select('.domain').remove());

const yAxis = svg.append('g').attr('transform', 'translate(150,0)')
  .call(d3.axisLeft(y).tickValues(yMajorValues).tickSize(5).tickSizeOuter(0));
yAxis.selectAll('text').attr('x', -12).attr('dy', 8).call(powerLabel, yMajor);

svg.selectAll('.domain').attr('stroke', '#000').attr('stroke-width', 1.6);
svg.append('path').attr('d', 'M150,24.3H1708.5V581').attr('fill', 'none').attr('stroke', '#000').attr('stroke-width', 1.6);

// axis titles
const xTitle = svg.append('text')
  .attr('transform', `translate(932,650) ${stretch}`)
  .attr('text-anchor', 'middle')
  .style('font-size', '33px');
xTitle.append('tspan').text('1/\u0394');
xTitle.append('tspan').text('t').style('font-style', 'italic');
xTitle.append('tspan').text('DM').attr('dy', 7).style('font-size', '23px').style('font-style', 'italic');
xTitle.append('tspan').text(' [1/s]').attr('dy', -7);

const yTitle = svg.append('text')
  .attr('transform', `translate(58,302) ${stretch} rotate(-90)`)
  .attr('text-anchor', 'middle')
  .style('font-size', '33px');
yTitle.append('tspan').text('Max. |');
yTitle.append('tspan').text('\u03b4g').style('font-style', 'italic');
yTitle.append('tspan').text('r').attr('dy', 7).style('font-size', '23px').style('font-style', 'italic');
yTitle.append('tspan').text('/g').attr('dy', -7).style('font-style', 'italic');
yTitle.append('tspan').text('| [-]');

// legend on top of everything in the plot
const legend = svg.append('g');
legend.append('rect')
  .attr('x', 162).attr('y', 197).attr('width', 418).attr('height', 374).attr('rx', 4)
  .attr('fill', 'rgba(255,255,255,0.8)')
  .attr('stroke', 'rgba(204,204,204,0.8)').attr('stroke-width', 1.5);

const legendY = d3.scalePoint().domain(velocities).range([214, 475]);
const legendLabel = ypos => legend.append('text')
  .attr('transform', `translate(235,${ypos + 7}) ${stretch}`)
  .style('font-size', '19.7px');

velocities.forEach((v, i) => {
  const ly = legendY(v);
  legend.append('path')
    .attr('d', d3.symbol().type(markers[i].type).size(markers[i].size)())
    .attr('transform', `translate(192.5,${ly})${markers[i].flip ? ' rotate(180)' : ''}`)
    .attr('fill', color(0.000038));
  const t = legendLabel(ly);
  t.append('tspan').text('V').style('font-style', 'italic');
  t.append('tspan').text('\u221e').attr('dy', 4).style('font-size', '14px');
  t.append('tspan').text(` = ${v} [km/s]`).attr('dy', -4);
});

legend.append('line').attr('x1', 169).attr('x2', 215.5).attr('y1', 507).attr('y2', 507)
  .attr('stroke', '#1f77b4').attr('stroke-width', 2.4);
legend.append('line').attr('x1', 169).attr('x2', 215.5).attr('y1', 548).attr('y2', 548)
  .attr('stroke', '#ff7f0e').attr('stroke-width', 2.4);

const blueLabel = legendLabel(508);
blueLabel.append('tspan').text('\u03c3').style('font-style', 'italic');
blueLabel.append('tspan').text('PSD').attr('dy', 4).style('font-size', '14px').style('font-style', 'italic');
blueLabel.append('tspan').text('/g').attr('dy', -4).style('font-style', 'italic');
blueLabel.append('tspan').text(' - Membach station');

const orangeLabel = legendLabel(547);
orangeLabel.append('tspan').text('\u03c3').style('font-style', 'italic');
orangeLabel.append('tspan').text('PSD').attr('dy', 4).style('font-size', '14px').style('font-style', 'italic');
orangeLabel.append('tspan').text('/(').attr('dy', -4);
orangeLabel.append('tspan').text('g').style('font-style', 'italic');
orangeLabel.append('tspan').text('\u221a').attr('dx', 2);
orangeLabel.append('tspan').text('N').attr('dx', 1).style('font-style', 'italic').style('text-decoration', 'overline');
orangeLabel.append('tspan').text(') - Membach station').attr('dx', 2);

// colour bar
const barGradient = defs.append('linearGradient').attr('id', 'bar-gradient');
barGradient.selectAll('stop')
  .data(d3.range(0, 1.001, 0.05))
  .enter()
  .append('stop')
  .attr('offset', d => d)
  .attr('stop-color', d => d3.interpolateViridis(d));
svg.append('rect')
  .attr('x', 150).attr('y', 710.3).attr('width', 1558.5).attr('height', 71.4)
  .attr('fill', 'url(#bar-gradient)')
  .attr('stroke', '#000').attr('stroke-width', 1.4);

const barAxis = svg.append('g').attr('transform', 'translate(0,781.7)')
  .call(d3.axisBottom(barScale).tickValues(barTicks).tickSize(5).tickSizeOuter(0).tickFormat(d3.format('.3f')));
barAxis.select('.domain').remove();
barAxis.selectAll('text')
  .attr('y', 23).attr('dy', 0)
  .attr('transform', stretch)
  .style('font-size', '14.7px');

const barTitle = svg.append('text')
  .attr('transform', `translate(930,699) ${stretch}`)
  .attr('text-anchor', 'middle')
  .style('font-size', '29.2px');
barTitle.append('tspan').text('Impact parameter ');
barTitle.append('tspan').text('B').style('font-style', 'italic');
barTitle.append('tspan').text(' [AU]');

// annotations pasted over the figure
const arrowHead = defs.append('marker')
  .attr('id', 'thin-head').attr('viewBox', '0 0 10 10').attr('refX', 9).attr('refY', 5)
  .attr('preserveAspectRatio', 'none')
  .attr('markerUnits', 'userSpaceOnUse').attr('markerWidth', 18).attr('markerHeight', 13).attr('orient', 'auto');
arrowHead.append('path').attr('d', 'M0,0L10,5L0,10L3,5Z').attr('fill', '#000');

const serif = '"Liberation Serif", serif';
const sans = '"Liberation Sans", Arial, sans-serif';
const box = (bx, by, bw, bh) => svg.append('rect')
  .attr('x', bx).attr('y', by).attr('width', bw).attr('height', bh)
  .attr('fill', '#fff').attr('stroke', '#000').attr('stroke-width', 3);
const word = (str, wx, wy, size, family, italic) => svg.append('text')
  .attr('x', wx).attr('y', wy).text(str)
  .style('font-size', size + 'px').style('font-family', family)
  .style('font-style', italic ? 'italic' : 'normal');
const thinArrow = (x1, y1, x2, y2) => svg.append('line')
  .attr('x1', x1).attr('y1', y1).attr('x2', x2).attr('y2', y2)
  .attr('stroke', '#000').attr('stroke-width', 2).attr('marker-end', 'url(#thin-head)');

box(835, 45, 423, 98);
word('B', 846, 118, 63, serif, true);
thinArrow(888.5, 58, 922, 124);
// one text element for the whole phrase, V and the infinity sign sit close together
const phrase = word('and/or', 943, 118, 65, sans, false);
phrase.append('tspan').text('V').attr('x', 1145)
  .style('font-size', '64px').style('font-family', serif).style('font-style', 'italic');
phrase.append('tspan').text('\u221e').attr('dx', -9).attr('dy', 11)
  .style('font-size', '50px').style('font-family', serif);
thinArrow(1213, 127, 1233, 59);

box(1294.5, 372, 95.5, 97);
word('B', 1305, 444, 63, serif, true);
thinArrow(1350, 459, 1371, 393);

// blue direction arrows
svg.append('path')
  .attr('d', 'M842,178H1222V166L1257,184L1222,202V190H842Z')
  .attr('fill', cyan);
svg.append('path')
  .attr('d', 'M1246,313H1258V527H1270L1252,562L1235,527H1246Z')
  .attr('fill', cyan);
</script>
</body>
</html>
